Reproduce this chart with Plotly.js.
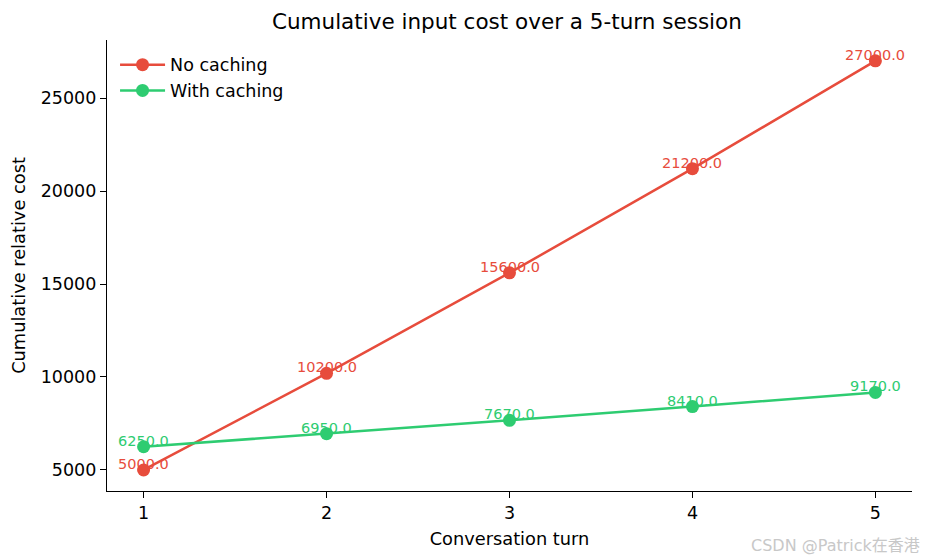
<!DOCTYPE html>
<html>
<head>
<meta charset="utf-8">
<script src="https://cdn.plot.ly/plotly-3.0.1.min.js"></script>
<style>
  html, body { margin: 0; padding: 0; background: #fff; }
  #chart { width: 925px; height: 560px; }
</style>
</head>
<body>
<div id="chart"></div>
<script>
// ── Datos ─────────────────────────────────────────────
const turns       = [1, 2, 3, 4, 5];
const noCaching   = [5000, 10200, 15600, 21200, 27000];
const withCaching = [6250, 6950, 7670, 8410, 9170];
const seriesNames = ['No caching', 'With caching'];
const yTicks      = [5000, 10000, 15000, 20000, 25000];

const RED   = '#e74c3c';
const GREEN = '#2ecc71';
const FONT  = 'DejaVu Sans, sans-serif';

function makeTrace(y, name, color) {
  return {
    type: 'scatter',
    mode: 'lines+markers',
    x: turns,
    y: y,
    name: name,
    line:   { color: color, width: 2.5 },
    marker: { color: color, size: 13 },
    hoverinfo: 'x+y'
  };
}

// etiquetas de valor encima de cada punto
function makeLabels(y, color) {
  return turns.map((t, i) => ({
    x: t, y: y[i],
    xref: 'x', yref: 'y',
    text: y[i].toFixed(1),
    showarrow: false,
    yanchor: 'bottom',
    yshift: -4,
    font: { family: FONT, size: 14.5, color: color }
  }));
}

const traces = [
  makeTrace(noCaching, seriesNames[0], RED),
  makeTrace(withCaching, seriesNames[1], GREEN)
];

const layout = {
  width: 925,
  height: 560,
  paper_bgcolor: '#ffffff',
  plot_bgcolor:  '#ffffff',
  font:   { family: FONT, size: 17.5, color: '#000' },
  margin: { t: 40, b: 69, l: 107, r: 13 },
  title: {
    text: 'Cumulative input cost over a 5-turn session',
    font: { family: FONT, size: 21.5, color: '#000' },
    x: 0.548, xanchor: 'center',
    y: 0.962, yanchor: 'middle'
  },
  xaxis: {
    title: { text: 'Conversation turn', font: { size: 17.8 }, standoff: 10 },
    range: [0.8, 5.2],
    tickvals: turns,
    ticks: 'outside', ticklen: 6, tickwidth: 1.2, tickcolor: '#000',
    showline: true, linecolor: '#000', linewidth: 1.2,
    showgrid: false, zeroline: false,
    tickfont: { size: 17.5 }
  },
  yaxis: {
    title: { text: 'Cumulative relative cost', font: { size: 17.8 }, standoff: 10 },
    range: [3870, 28120],
    tickvals: yTicks,
    ticktext: yTicks.map(String),
    ticks: 'outside', ticklen: 6, tickwidth: 1.2, tickcolor: '#000',
    showline: true, linecolor: '#000', linewidth: 1.2,
    showgrid: false, zeroline: false,
    tickfont: { size: 17.5 }
  },
  legend: {
    x: 0.01, y: 0.985, xanchor: 'left', yanchor: 'top',
    bgcolor: 'rgba(255,255,255,0)',
    font: { family: FONT, size: 17.5 },
    itemwidth: 45
  },
  annotations: [
    ...makeLabels(noCaching, RED),
    ...makeLabels(withCaching, GREEN),
    {
      xref: 'paper', yref: 'paper',
      x: 1.0, y: -0.12, xanchor: 'right', yanchor: 'middle',
      xshift: 10,
      text: 'CSDN @Patrick在香港',
      showarrow: false,
      font: { family: 'DejaVu Sans, Noto Sans CJK SC, sans-serif', size: 16, color: '#c8c8c8' }
    }
  ],
  showlegend: true
};

Plotly.newPlot('chart', traces, layout, { displayModeBar: false, responsive: false });
</script>
</body>
</html>
